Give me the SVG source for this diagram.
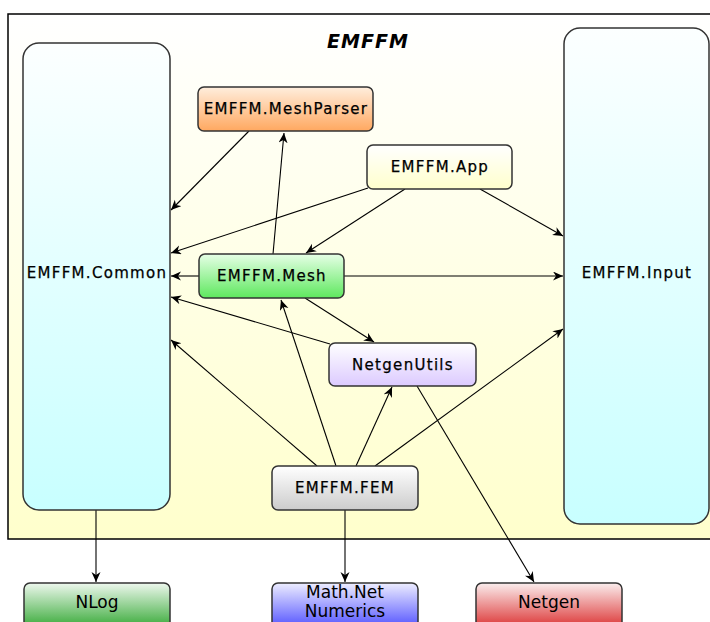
<svg xmlns="http://www.w3.org/2000/svg" width="710" height="622" viewBox="0 0 710 622">
<defs>
<linearGradient id="gFrame" x1="0" y1="0" x2="0" y2="1"><stop offset="0" stop-color="#ffffff"/><stop offset="1" stop-color="#ffffcc"/></linearGradient>
<linearGradient id="gCyan" x1="0" y1="0" x2="0" y2="1"><stop offset="0" stop-color="#fcffff"/><stop offset="1" stop-color="#c8ffff"/></linearGradient>
<linearGradient id="gOrange" x1="0" y1="0" x2="0" y2="1"><stop offset="0" stop-color="#ffeedd"/><stop offset="1" stop-color="#ffa860"/></linearGradient>
<linearGradient id="gYellow" x1="0" y1="0" x2="0" y2="1"><stop offset="0" stop-color="#ffffff"/><stop offset="1" stop-color="#ffffcc"/></linearGradient>
<linearGradient id="gGreen" x1="0" y1="0" x2="0" y2="1"><stop offset="0" stop-color="#e6ffe6"/><stop offset="1" stop-color="#5ee85e"/></linearGradient>
<linearGradient id="gLav" x1="0" y1="0" x2="0" y2="1"><stop offset="0" stop-color="#ffffff"/><stop offset="1" stop-color="#dccaff"/></linearGradient>
<linearGradient id="gGray" x1="0" y1="0" x2="0" y2="1"><stop offset="0" stop-color="#ffffff"/><stop offset="1" stop-color="#cccccc"/></linearGradient>
<linearGradient id="gNLog" x1="0" y1="0" x2="0" y2="1"><stop offset="0" stop-color="#eef8ee"/><stop offset="1" stop-color="#22a022"/></linearGradient>
<linearGradient id="gBlue" x1="0" y1="0" x2="0" y2="1"><stop offset="0" stop-color="#eeeeff"/><stop offset="1" stop-color="#4040ff"/></linearGradient>
<linearGradient id="gRed" x1="0" y1="0" x2="0" y2="1"><stop offset="0" stop-color="#fbeeee"/><stop offset="1" stop-color="#d81e1e"/></linearGradient>
<marker id="arr" markerUnits="userSpaceOnUse" markerWidth="12" markerHeight="10" refX="10" refY="4.5" orient="auto">
<path d="M0,0 L10,4.5 L0,9 L3,4.5 z" fill="#000"/>
</marker>
</defs>
<style>
.box{stroke:#333;stroke-width:1.5}
.lbl{font-family:"DejaVu Sans",sans-serif;font-size:15px;letter-spacing:1.3px;text-anchor:middle;fill:#000;stroke:#000;stroke-width:0.25}
.blbl{font-family:"DejaVu Sans",sans-serif;font-size:17px;text-anchor:middle;fill:#000}
.edge{stroke:#000;stroke-width:1.1;fill:none;marker-end:url(#arr)}
</style>
<rect x="0" y="0" width="710" height="622" fill="#ffffff"/>
<g id="frame">
<rect x="8" y="14" width="720" height="525" fill="url(#gFrame)" stroke="#000" stroke-width="1.5"/>
<text x="368" y="48" font-family="DejaVu Sans,sans-serif" font-size="19" font-weight="bold" font-style="italic" letter-spacing="1" text-anchor="middle">EMFFM</text>
</g>
<g id="edges">
<line class="edge" x1="249" y1="131" x2="171" y2="210"/>
<line class="edge" x1="273" y1="254" x2="284" y2="133"/>
<line class="edge" x1="368" y1="188" x2="171" y2="253"/>
<line class="edge" x1="405" y1="189" x2="306" y2="253"/>
<line class="edge" x1="480" y1="189" x2="563" y2="236"/>
<line class="edge" x1="199" y1="276" x2="171" y2="276"/>
<line class="edge" x1="344" y1="276" x2="563" y2="276"/>
<line class="edge" x1="305" y1="298" x2="374" y2="342"/>
<line class="edge" x1="330" y1="344" x2="171" y2="297"/>
<line class="edge" x1="417" y1="386" x2="534" y2="582"/>
<line class="edge" x1="317" y1="466" x2="171" y2="340"/>
<line class="edge" x1="336" y1="466" x2="281" y2="300"/>
<line class="edge" x1="356" y1="466" x2="392" y2="387"/>
<line class="edge" x1="375" y1="466" x2="563" y2="329"/>
<line class="edge" x1="345" y1="510" x2="345" y2="582"/>
<line class="edge" x1="96" y1="510" x2="96" y2="582"/>
</g>
<g id="EMFFM.Common">
<rect class="box" x="23" y="43" width="147" height="467" rx="16" fill="url(#gCyan)"/>
<text class="lbl" x="97" y="278">EMFFM.Common</text>
</g>
<g id="EMFFM.Input">
<rect class="box" x="564" y="28" width="145" height="496" rx="16" fill="url(#gCyan)"/>
<text class="lbl" x="637" y="278">EMFFM.Input</text>
</g>
<g id="EMFFM.MeshParser">
<rect class="box" x="198" y="87" width="175" height="44" rx="6" fill="url(#gOrange)"/>
<text class="lbl" x="286" y="114">EMFFM.MeshParser</text>
</g>
<g id="EMFFM.App">
<rect class="box" x="367" y="145" width="145" height="44" rx="6" fill="url(#gYellow)"/>
<text class="lbl" x="440" y="172">EMFFM.App</text>
</g>
<g id="EMFFM.Mesh">
<rect class="box" x="199" y="254" width="145" height="44" rx="6" fill="url(#gGreen)"/>
<text class="lbl" x="272" y="281">EMFFM.Mesh</text>
</g>
<g id="NetgenUtils">
<rect class="box" x="329" y="343" width="147" height="43" rx="6" fill="url(#gLav)"/>
<text class="lbl" x="403" y="370">NetgenUtils</text>
</g>
<g id="EMFFM.FEM">
<rect class="box" x="272" y="466" width="146" height="44" rx="6" fill="url(#gGray)"/>
<text class="lbl" x="345" y="493">EMFFM.FEM</text>
</g>
<g id="NLog">
<rect class="box" x="24" y="583" width="146" height="50" rx="6" fill="url(#gNLog)"/>
<text class="blbl" x="97" y="608">NLog</text>
</g>
<g id="Math.Net.Numerics">
<rect class="box" x="272" y="583" width="146" height="50" rx="6" fill="url(#gBlue)"/>
<text class="blbl" x="345" y="598">Math.Net</text>
<text class="blbl" x="345" y="617">Numerics</text>
</g>
<g id="Netgen">
<rect class="box" x="476" y="583" width="146" height="50" rx="6" fill="url(#gRed)"/>
<text class="blbl" x="549" y="608">Netgen</text>
</g>
</svg>
